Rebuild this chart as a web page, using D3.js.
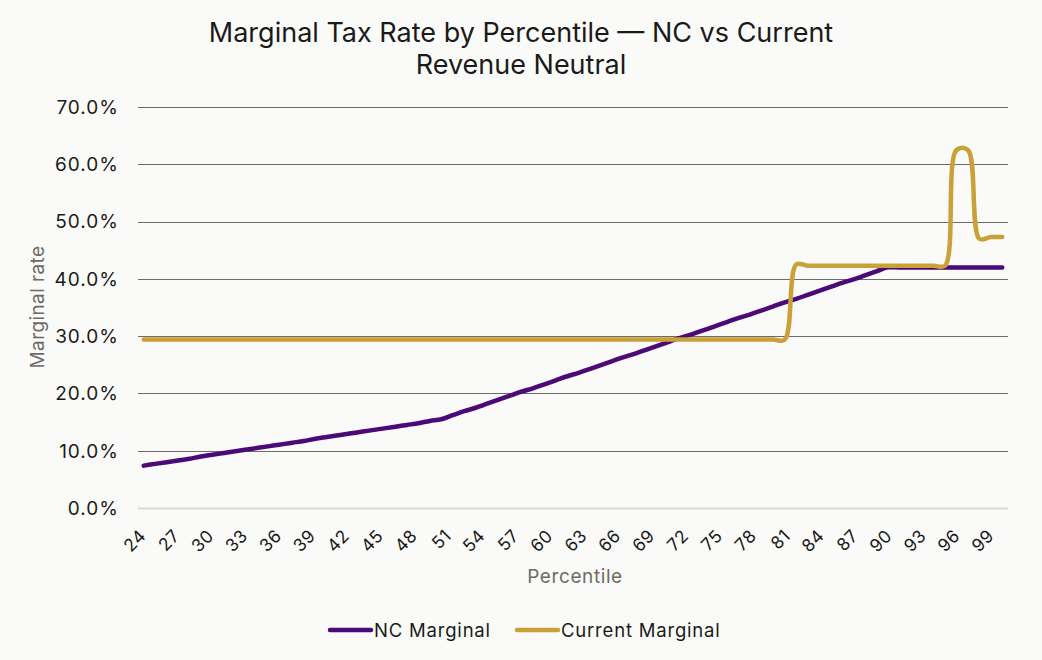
<!DOCTYPE html>
<html>
<head>
<meta charset="utf-8">
<script src="https://cdn.jsdelivr.net/npm/d3@7"></script>
<style>
  html, body { margin: 0; padding: 0; background: #fafaf8; }
  svg { display: block; }
</style>
</head>
<body>
<div id="chart"></div>
<script>
// percentiles 24..99
const percentiles = [
  24, 25, 26, 27, 28, 29, 30, 31, 32, 33, 34, 35, 36, 37, 38, 39, 40, 41, 42,
  43, 44, 45, 46, 47, 48, 49, 50, 51, 52, 53, 54, 55, 56, 57, 58, 59, 60, 61,
  62, 63, 64, 65, 66, 67, 68, 69, 70, 71, 72, 73, 74, 75, 76, 77, 78, 79, 80,
  81, 82, 83, 84, 85, 86, 87, 88, 89, 90, 91, 92, 93, 94, 95, 96, 97, 98, 99
];

// NC Marginal (%)
const ncMarginal = [
  7.4, 7.7, 8.0, 8.3, 8.6, 9.0, 9.3, 9.6, 9.9, 10.2, 10.5, 10.8, 11.1, 11.4, 11.7, 12.1, 12.4, 12.7, 13.0,
  13.3, 13.6, 13.9, 14.2, 14.5, 14.8, 15.2, 15.5, 16.2, 16.9, 17.5, 18.2, 18.9, 19.6, 20.3, 20.9, 21.6, 22.3, 23.0,
  23.6, 24.3, 25.0, 25.7, 26.4, 27.0, 27.7, 28.4, 29.1, 29.8, 30.4, 31.1, 31.8, 32.5, 33.2, 33.8, 34.5, 35.2, 35.9,
  36.5, 37.2, 37.9, 38.6, 39.3, 39.9, 40.6, 41.3, 42.0, 42.0, 42.0, 42.0, 42.0, 42.0, 42.0, 42.0, 42.0, 42.0, 42.0
];

// Current Marginal (%)
const currentMarginal = [
  29.4, 29.4, 29.4, 29.4, 29.4, 29.4, 29.4, 29.4, 29.4, 29.4, 29.4, 29.4, 29.4, 29.4, 29.4, 29.4, 29.4, 29.4, 29.4,
  29.4, 29.4, 29.4, 29.4, 29.4, 29.4, 29.4, 29.4, 29.4, 29.4, 29.4, 29.4, 29.4, 29.4, 29.4, 29.4, 29.4, 29.4, 29.4,
  29.4, 29.4, 29.4, 29.4, 29.4, 29.4, 29.4, 29.4, 29.4, 29.4, 29.4, 29.4, 29.4, 29.4, 29.4, 29.4, 29.4, 29.4, 29.4,
  42.5, 42.3, 42.3, 42.3, 42.3, 42.3, 42.3, 42.3, 42.3, 42.3, 42.3, 42.3, 42.3, 42.3, 62.5, 62.5, 47.0, 47.3, 47.3
];

const yTicks = [0, 10, 20, 30, 40, 50, 60, 70];
const xTickLabels = [24, 27, 30, 33, 36, 39, 42, 45, 48, 51, 54, 57, 60, 63, 66, 69, 72, 75, 78, 81, 84, 87, 90, 93, 96, 99];

const series = [
  { name: 'NC Marginal', values: ncMarginal, color: '#4b0a78' },
  { name: 'Current Marginal', values: currentMarginal, color: '#c8a137' }
];

const width = 1042;
const height = 660;
const margin = { top: 107, right: 34, bottom: 152, left: 138 };
const font = 'Inter, "Noto Sans", sans-serif';

const svg = d3.select('#chart')
  .append('svg')
  .attr('width', width)
  .attr('height', height)
  .attr('viewBox', `0 0 ${width} ${height}`);

svg.append('rect')
  .attr('width', width)
  .attr('height', height)
  .attr('fill', '#fafaf8');

const x = d3.scalePoint()
  .domain(percentiles)
  .range([margin.left, width - margin.right])
  .padding(0.5);

// rotated tick labels sit on a slightly tighter spacing than the plotted points
const xLabel = d3.scaleLinear()
  .domain([24, 99])
  .range([147, 995]);

const y = d3.scaleLinear()
  .domain([0, 70])
  .range([height - margin.bottom, margin.top]);

// title
svg.append('text')
  .attr('x', 521)
  .attr('text-anchor', 'middle')
  .attr('font-family', font)
  .attr('font-size', 27)
  .attr('fill', '#1a1a1a')
  .selectAll('tspan')
  .data(['Marginal Tax Rate by Percentile \u2014 NC vs Current', 'Revenue Neutral'])
  .join('tspan')
  .attr('x', 521)
  .attr('y', (d, i) => 42 + i * 32)
  .text(d => d);

// gridlines
svg.append('g')
  .selectAll('line')
  .data(yTicks)
  .join('line')
  .attr('x1', margin.left)
  .attr('x2', width - margin.right)
  .attr('y1', d => Math.round(y(d)) + 0.5)
  .attr('y2', d => Math.round(y(d)) + 0.5)
  .attr('stroke', d => d === 0 ? '#d9d9d9' : '#6e6b68')
  .attr('stroke-width', d => d === 0 ? 2 : 1);

// y tick labels
svg.append('g')
  .selectAll('text')
  .data(yTicks)
  .join('text')
  .attr('x', 119)
  .attr('y', d => y(d))
  .attr('dy', '0.36em')
  .attr('text-anchor', 'end')
  .attr('font-family', font)
  .attr('font-size', 19)
  .attr('letter-spacing', 1)
  .attr('fill', '#1a1a1a')
  .text(d => d3.format('.1f')(d) + '%');

// x tick labels
svg.append('g')
  .selectAll('text')
  .data(xTickLabels)
  .join('text')
  .attr('text-anchor', 'end')
  .attr('transform', d => `translate(${xLabel(d)},537) rotate(-45)`)
  .attr('font-family', font)
  .attr('font-size', 17.5)
  .attr('letter-spacing', 0.5)
  .attr('fill', '#1a1a1a')
  .text(d => d);

// axis titles
svg.append('text')
  .attr('x', 575)
  .attr('y', 583)
  .attr('text-anchor', 'middle')
  .attr('font-family', font)
  .attr('font-size', 19)
  .attr('letter-spacing', 0.6)
  .attr('fill', '#6f6a66')
  .text('Percentile');

svg.append('text')
  .attr('transform', 'translate(44,307) rotate(-90)')
  .attr('text-anchor', 'middle')
  .attr('font-family', font)
  .attr('font-size', 19)
  .attr('letter-spacing', 0.4)
  .attr('fill', '#6f6a66')
  .text('Marginal rate');

// lines
const line = d3.line()
  .x((d, i) => x(percentiles[i]))
  .y(d => y(d))
  .curve(d3.curveCatmullRom.alpha(0.5));

svg.append('g')
  .selectAll('path')
  .data(series)
  .join('path')
  .attr('fill', 'none')
  .attr('stroke', d => d.color)
  .attr('stroke-width', 4.5)
  .attr('stroke-linecap', 'round')
  .attr('stroke-linejoin', 'round')
  .attr('d', d => line(d.values));

// legend
const legendX = [330, 517];
const legend = svg.append('g')
  .selectAll('g')
  .data(series)
  .join('g')
  .attr('transform', (d, i) => `translate(${legendX[i]},630)`);

legend.append('line')
  .attr('x1', 0)
  .attr('x2', 41)
  .attr('stroke', d => d.color)
  .attr('stroke-width', 4.5)
  .attr('stroke-linecap', 'round');

legend.append('text')
  .attr('x', 44)
  .attr('dy', '0.36em')
  .attr('font-family', font)
  .attr('font-size', 18.5)
  .attr('letter-spacing', 0.8)
  .attr('fill', '#1a1a1a')
  .text(d => d.name);
</script>
</body>
</html>
